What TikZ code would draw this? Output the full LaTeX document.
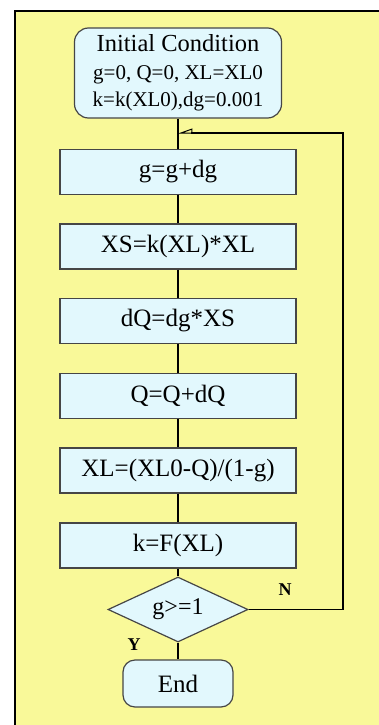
\documentclass[tikz,border=0pt]{standalone}
\usepackage{fontspec}
\setmainfont{Liberation Serif}
\usetikzlibrary{arrows.meta, shapes.geometric}
\definecolor{panelyellow}{RGB}{249,249,153}
\definecolor{boxblue}{RGB}{226,248,253}
\definecolor{boxedge}{RGB}{70,70,70}
\begin{document}
\begin{tikzpicture}[x=1pt, y=-1pt,
        stepbox/.style={rectangle, draw=boxedge, line width=1.2pt, fill=boxblue,
            minimum width=236pt, minimum height=45pt, inner sep=0pt,
            font=\fontsize{25}{28}\selectfont},
        startbox/.style={rectangle, rounded corners=14pt, draw=boxedge, line width=1.2pt,
            fill=boxblue, inner sep=0pt, align=center},
        testbox/.style={diamond, aspect=2.15, draw=boxedge, line width=1.2pt, fill=boxblue,
            minimum width=140pt, minimum height=65pt, inner sep=0pt,
            font=\fontsize{24}{27}\selectfont},
        conn/.style={line width=1.5pt, black},
        branchlabel/.style={font=\fontsize{18}{20}\selectfont\bfseries}]
        \useasboundingbox (0,0) rectangle (379,725);
        \draw[line width=2.5pt, fill=panelyellow] (15,11) rectangle (430,760);

        \node[startbox, minimum width=207pt, minimum height=90pt,
            font=\fontsize{21}{27.5}\selectfont] (init) at (178,73)
            {{\fontsize{24.5}{27.5}\selectfont Initial Condition}\\
             g=0, Q=0, XL=XL0\\
             k=k(XL0),dg=0.001};
        \node[stepbox] (s1) at (178,172) {g=g+dg};
        \node[stepbox] (s2) at (178,246.5) {XS=k(XL)*XL};
        \node[stepbox] (s3) at (178,321) {dQ=dg*XS};
        \node[stepbox] (s4) at (178,396) {Q=Q+dQ};
        \node[stepbox] (s5) at (178,470.5) {XL=(XL0-Q)/(1-g)};
        \node[stepbox] (s6) at (178,545.5) {k=F(XL)};
        \node[testbox] (dec) at (178,609.5) {g>=1};
        \node[startbox, minimum width=110pt, minimum height=47pt, rounded corners=12pt,
            font=\fontsize{25}{28}\selectfont] (stop) at (178,683.5) {End};

        \coordinate (loopbottom) at (343,609.5);
        \coordinate (looptop) at (343,133);
        \coordinate (join) at (178,133);

        \draw[conn] (init) -- (s1);
        \draw[conn] (s1) -- (s2);
        \draw[conn] (s2) -- (s3);
        \draw[conn] (s3) -- (s4);
        \draw[conn] (s4) -- (s5);
        \draw[conn] (s5) -- (s6);
        \draw[conn] (s6) -- (dec);
        \draw[conn] (dec) -- (stop);
        \draw[conn, -{Triangle[open, right, length=13pt, width=9pt, line width=1pt]}]
            (dec.east) -- (loopbottom) -- (looptop) -- (join);

        \node[branchlabel] (nolabel) at (285,590) {N};
        \node[branchlabel] (yeslabel) at (134,645) {Y};
    \end{tikzpicture}
\end{document}
